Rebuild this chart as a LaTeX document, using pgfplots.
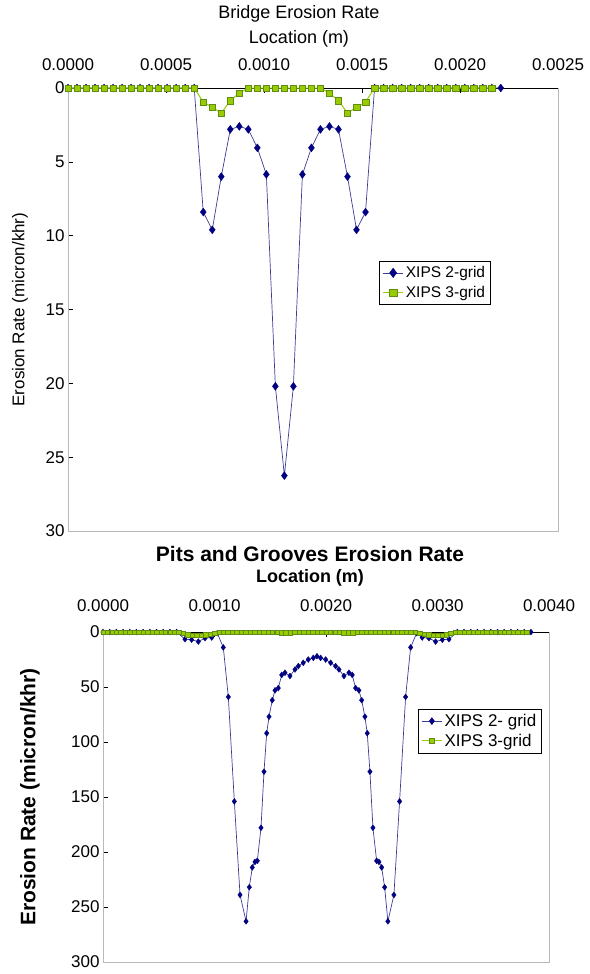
\documentclass[border=0pt]{standalone}
\usepackage{fontspec}
\setmainfont{Liberation Sans}
\usepackage{pgfplots}
\pgfplotsset{compat=1.18}
\definecolor{navyb}{RGB}{0,0,128}
\definecolor{navyl}{RGB}{60,60,150}
\definecolor{limeg}{RGB}{153,204,0}
\definecolor{limed}{RGB}{95,140,20}

\pgfplotsset{
  erosion/.style={
    scale only axis,
    y dir=reverse,
    scaled x ticks=false,
    /pgf/number format/assume math mode=true,
    xticklabel pos=top,
    xtick pos=top,
    ytick pos=left,
    axis line style={gray!55, line width=1bp},
    tick style={black, line width=0.6bp},
    major tick length=5bp,
    clip=false,
    legend cell align=left,
  },
  s2/.style={navyl, line width=0.7bp, mark=diamond*, mark options={navyb, fill=navyb, line width=0.3bp}},
  s3/.style={limeg, line width=1bp, mark=square*, mark options={draw=limed, fill=limeg, line width=0.4bp}},
}

\begin{document}
\begin{tikzpicture}
\useasboundingbox (0,0) rectangle (590bp,-974bp);

% ---- Bridge erosion rate
\begin{axis}[erosion,
  at={(68bp,-531bp)}, anchor=south west,
  width=490bp, height=443bp,
  xmin=0, xmax=0.0025, ymin=0, ymax=30,
  xtick={0,0.0005,0.001,0.0015,0.002,0.0025},
  xticklabels={0.0000,0.0005,0.0010,0.0015,0.0020,0.0025},
  ytick={0,5,10,15,20,25,30},
  tick label style={font=\fontsize{17bp}{19bp}\selectfont},
  xticklabel style={yshift=14bp},
  xlabel={Location (m)},
  xlabel style={font=\fontsize{18bp}{20bp}\selectfont, at={(axis description cs:0.5,1)}, anchor=center, yshift=49bp, xshift=-14bp},
  title={Bridge Erosion Rate},
  title style={font=\fontsize{18bp}{20bp}\selectfont, at={(axis description cs:0.5,1)}, anchor=center, yshift=68bp, xshift=-14bp},
  ylabel={Erosion Rate (micron/khr)},
  ylabel style={font=\fontsize{17bp}{19bp}\selectfont, at={(axis description cs:0,0.5)}, anchor=center, yshift=48bp},
  legend style={at={(0.635,0.609)}, anchor=north west, draw=black, line width=0.6bp,
    font=\fontsize{15.5bp}{18bp}\selectfont, row sep=3bp, inner sep=3bp},
  legend image post style={scale=1.2},
]
\draw[black, line width=0.8bp] (axis cs:0,0) -- (axis cs:0.0025,0);
\addplot+[s2, mark size=4bp] coordinates {
(0,0) (0.000046,0) (0.000092,0) (0.000138,0) (0.000184,0) (0.00023,0) (0.000276,0)
(0.000322,0) (0.000368,0) (0.000414,0) (0.00046,0) (0.000506,0) (0.000552,0)
(0.000598,0) (0.000644,0) (0.00069,8.4) (0.000736,9.6) (0.000782,6.0) (0.000828,2.8)
(0.000874,2.6) (0.00092,2.8) (0.000966,4.05) (0.001012,5.85) (0.001058,20.2)
(0.001104,26.25) (0.00115,20.2) (0.001196,5.85) (0.001242,4.05) (0.001288,2.8)
(0.001334,2.6) (0.00138,2.8) (0.001426,6.0) (0.001472,9.6) (0.001518,8.4)
(0.001564,0) (0.00161,0) (0.001656,0) (0.001702,0) (0.001748,0) (0.001794,0)
(0.00184,0) (0.001886,0) (0.001932,0) (0.001978,0) (0.002024,0) (0.00207,0)
(0.002116,0) (0.002162,0) (0.002208,0)
};
\addlegendentry{XIPS 2-grid}
\addplot+[s3, mark size=3.2bp] coordinates {
(0,0) (0.000046,0) (0.000092,0) (0.000138,0) (0.000184,0) (0.00023,0) (0.000276,0)
(0.000322,0) (0.000368,0) (0.000414,0) (0.00046,0) (0.000506,0) (0.000552,0)
(0.000598,0) (0.000644,0) (0.00069,0.95) (0.000736,1.3) (0.000782,1.7) (0.000828,0.85)
(0.000874,0.35) (0.00092,0) (0.000966,0) (0.001012,0) (0.001058,0)
(0.001104,0) (0.00115,0) (0.001196,0) (0.001242,0) (0.001288,0)
(0.001334,0.35) (0.00138,0.85) (0.001426,1.7) (0.001472,1.3) (0.001518,0.95)
(0.001564,0) (0.00161,0) (0.001656,0) (0.001702,0) (0.001748,0) (0.001794,0)
(0.00184,0) (0.001886,0) (0.001932,0) (0.001978,0) (0.002024,0) (0.00207,0)
(0.002116,0) (0.002162,0)
};
\addlegendentry{XIPS 3-grid}
\end{axis}

% ---- Pits and grooves erosion rate
\begin{axis}[erosion,
  at={(103bp,-962bp)}, anchor=south west,
  width=446bp, height=330bp,
  xmin=0, xmax=0.004, ymin=0, ymax=300,
  xtick={0,0.001,0.002,0.003,0.004},
  xticklabels={0.0000,0.0010,0.0020,0.0030,0.0040},
  ytick={0,50,100,150,200,250,300},
  tick label style={font=\fontsize{17bp}{19bp}\selectfont},
  xticklabel style={yshift=17bp},
  xlabel={\bfseries Location (m)},
  xlabel style={font=\fontsize{18bp}{20bp}\selectfont, at={(axis description cs:0.5,1)}, anchor=center, yshift=54bp, xshift=-16bp},
  title={\bfseries Pits and Grooves Erosion Rate},
  title style={font=\fontsize{21bp}{23bp}\selectfont, at={(axis description cs:0.5,1)}, anchor=center, yshift=72bp, xshift=-16bp},
  ylabel={\bfseries Erosion Rate (micron/khr)},
  ylabel style={font=\fontsize{21bp}{23bp}\selectfont, at={(axis description cs:0,0.5)}, anchor=center, yshift=73bp},
  legend style={at={(0.706,0.767)}, anchor=north west, draw=black, line width=0.6bp,
    font=\fontsize{17bp}{19bp}\selectfont, row sep=2bp, inner sep=3bp},
  legend image post style={scale=1.2},
]
\draw[black, line width=0.8bp] (axis cs:0,0) -- (axis cs:0.004,0);
\addplot+[s2, mark size=3bp] coordinates {
(0,0) (0.00006,0) (0.00012,0) (0.00018,0) (0.00024,0) (0.0003,0) (0.00036,0)
(0.00042,0) (0.00048,0) (0.00054,0) (0.0006,0) (0.00066,0)
(0.000735,6.5) (0.000795,7) (0.000855,8.7) (0.000915,5.6) (0.000975,5) (0.001025,1)
(0.001079,14) (0.001124,59) (0.001178,154) (0.001229,239) (0.001283,263)
(0.001312,232) (0.001339,214) (0.001363,209) (0.001384,208) (0.001417,178)
(0.001444,127) (0.001468,92) (0.001489,77) (0.001518,62) (0.001543,53)
(0.001572,51) (0.001603,39) (0.001632,37) (0.001677,40) (0.001722,34)
(0.001752,31) (0.001796,28) (0.001841,25) (0.001886,23.5) (0.001919,22)
(0.001952,23.5) (0.001997,25) (0.002042,28) (0.002086,31) (0.002116,34)
(0.002161,40) (0.002206,37) (0.002235,39) (0.002266,51) (0.002295,53)
(0.00232,62) (0.002349,77) (0.00237,92) (0.002394,127) (0.002421,178)
(0.002454,208) (0.002475,209) (0.002499,214) (0.002526,232) (0.002555,263)
(0.002609,239) (0.00266,154) (0.002714,59) (0.002759,14)
(0.002813,1) (0.002863,5) (0.002923,5.6) (0.002983,8.7) (0.003043,7) (0.003103,6.5)
(0.003178,0) (0.003238,0) (0.003298,0) (0.003358,0) (0.003418,0) (0.003478,0)
(0.003538,0) (0.003598,0) (0.003658,0) (0.003718,0) (0.003778,0) (0.003838,0)
};
\addlegendentry{XIPS 2- grid}
\addplot+[s3, mark size=2.2bp] coordinates {
(0,0) (0.00004,0) (0.00008,0) (0.00012,0) (0.00016,0) (0.0002,0) (0.00024,0) (0.00028,0)
(0.00032,0) (0.00036,0) (0.0004,0) (0.00044,0) (0.00048,0) (0.00052,0) (0.00056,0)
(0.0006,0) (0.00064,0) (0.00068,0) (0.00072,1) (0.00076,2.5) (0.0008,3) (0.00084,3)
(0.00088,3) (0.00092,2.5) (0.00096,2) (0.001,1) (0.00104,0) (0.00108,0) (0.00112,0)
(0.00116,0) (0.0012,0) (0.00124,0) (0.00128,0) (0.00132,0) (0.00136,0) (0.0014,0)
(0.00144,0) (0.00148,0) (0.00152,0) (0.00156,0) (0.0016,0.5) (0.00164,0.8) (0.00168,0.5)
(0.00172,0) (0.00176,0) (0.0018,0) (0.00184,0) (0.00188,0) (0.00192,0) (0.00196,0)
(0.002,0) (0.00204,0) (0.00208,0) (0.00212,0) (0.00216,0.5) (0.0022,0.8) (0.00224,0.5)
(0.00228,0) (0.00232,0) (0.00236,0) (0.0024,0) (0.00244,0) (0.00248,0) (0.00252,0)
(0.00256,0) (0.0026,0) (0.00264,0) (0.00268,0) (0.00272,0) (0.00276,0) (0.0028,0)
(0.00284,1) (0.00288,2) (0.00292,2.5) (0.00296,3) (0.003,3) (0.00304,3) (0.00308,2.5)
(0.00312,1) (0.00316,0) (0.0032,0) (0.00324,0) (0.00328,0) (0.00332,0) (0.00336,0)
(0.0034,0) (0.00344,0) (0.00348,0) (0.00352,0) (0.00356,0) (0.0036,0) (0.00364,0)
(0.00368,0) (0.00372,0) (0.00376,0) (0.0038,0)
};
\addlegendentry{XIPS 3-grid}
\end{axis}
\end{tikzpicture}
\end{document}
